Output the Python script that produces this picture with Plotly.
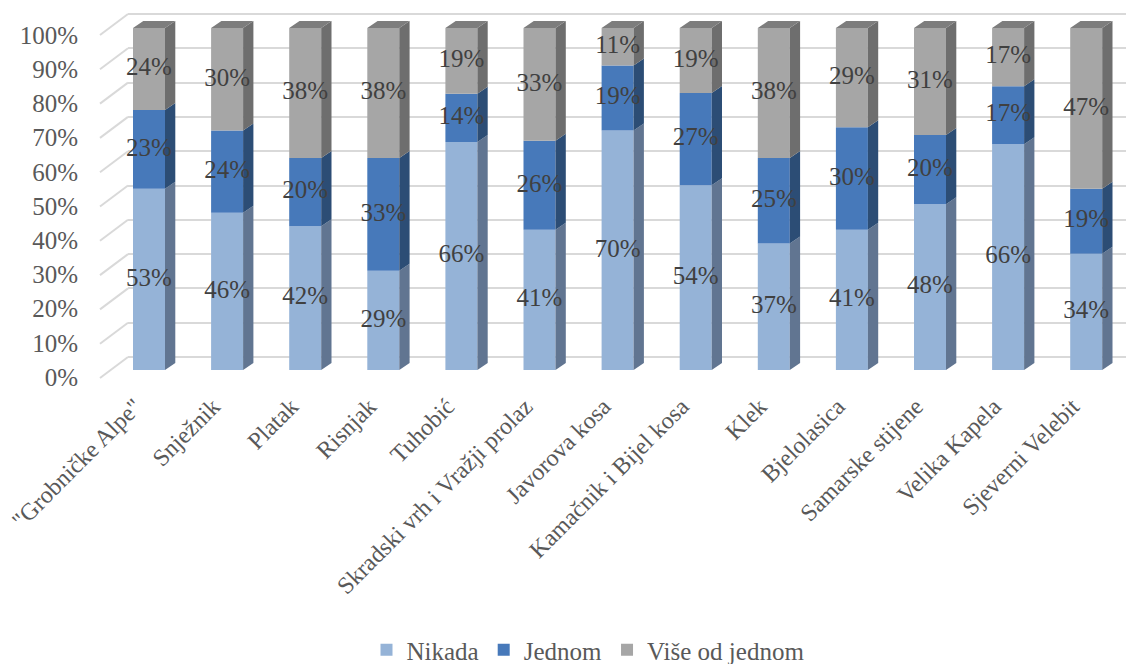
import numpy as np
import plotly.graph_objects as go

categories = ['"Grobničke Alpe"', "Snježnik", "Platak", "Risnjak", "Tuhobić",
              "Skradski vrh i Vražji prolaz", "Javorova kosa", "Kamačnik i Bijel kosa",
              "Klek", "Bjelolasica", "Samarske stijene", "Velika Kapela", "Sjeverni Velebit"]
nikada = [53, 46, 42, 29, 66, 41, 70, 54, 37, 41, 48, 66, 34]
jednom = [23, 24, 20, 33, 14, 26, 19, 27, 25, 30, 20, 17, 19]
vise = [24, 30, 38, 38, 19, 33, 11, 19, 38, 29, 31, 17, 47]
series_names = ["Nikada", "Jednom", "Više od jednom"]
tick_vals = [i / 10 for i in range(11)]
tick_text = [f"{i * 10}%" for i in range(11)]

FONT = "Liberation Serif"
FS = 25
FS_CAT = 24
front_colors = ["#95B3D7", "#4779BA", "#A6A6A6"]
side_colors = ["#617591", "#2C4D75", "#6E6E6E"]
top_color = "#7D7D7D"

# page body has an 8px margin; work in window pixels and subtract it
OFF = 8
WIN_W, WIN_H = 1134, 664
W, H = WIN_W - OFF, WIN_H - OFF
L, R, T, B = 128, 1130, 10, 380  # plot area in window px
PH = B - T

def axis_range(v_a, p_a, v_b, p_b):
    s = (p_a - p_b) / (v_b - v_a)
    return [v_a - (B - p_a) / s, v_a + (p_a - T) / s]

# bars: category i center at window px c0 + i*step
c0, step = 149.0, 78.1
xr = [(L - c0) / step, (R - c0) / step]
# category labels axis: slightly shifted so label ends sit just left of bar centres
lc0, lstep = 135.0, 78.1
xr_lab = [(L - lc0) / lstep, (R - lc0) / lstep]
bar_w = 32 / step
dx = 10.3 / step
dy = 7.0 / 342

yr_bar = axis_range(0, 370, 1, 28)
yr_grid = axis_range(0, 357, 1, 14)
yr_lab = axis_range(0, 377, 1, 35)

raw = np.array([nikada, jednom, vise], dtype=float)
frac = raw / raw.sum(axis=0)
cum = np.vstack([np.zeros(len(categories)), np.cumsum(frac, axis=0)[:-1]])
xs = np.arange(len(categories))

fig = go.Figure()
for k in range(3):
    fig.add_trace(go.Bar(x=xs, y=frac[k], base=cum[k], width=bar_w, name=series_names[k],
                         marker=dict(color=front_colors[k], line=dict(width=0)),
                         hoverinfo="skip", yaxis="y"))
# side faces
for k in range(3):
    px_, py_ = [], []
    for i in xs:
        xr_ = i + bar_w / 2
        b0, b1 = cum[k][i], cum[k][i] + frac[k][i]
        px_ += [xr_, xr_ + dx, xr_ + dx, xr_, xr_, None]
        py_ += [b0, b0 + dy, b1 + dy, b1, b0, None]
    fig.add_trace(go.Scatter(x=px_, y=py_, mode="lines", fill="toself", fillcolor=side_colors[k],
                             line=dict(width=0, color=side_colors[k]), showlegend=False,
                             hoverinfo="skip", yaxis="y"))
# top face
px_, py_ = [], []
for i in xs:
    xl, xr2 = i - bar_w / 2, i + bar_w / 2
    tp = cum[2][i] + frac[2][i]
    px_ += [xl, xr2, xr2 + dx, xl + dx, xl, None]
    py_ += [tp, tp, tp + dy, tp + dy, tp, None]
fig.add_trace(go.Scatter(x=px_, y=py_, mode="lines", fill="toself", fillcolor=top_color,
                         line=dict(width=0, color=top_color), showlegend=False,
                         hoverinfo="skip", yaxis="y"))
# data labels
for k in range(3):
    fig.add_trace(go.Scatter(x=xs, y=cum[k] + frac[k] / 2, mode="text",
                             text=[f"{int(v)}%" for v in raw[k]],
                             textfont=dict(family=FONT, size=FS, color="#404040"),
                             showlegend=False, hoverinfo="skip", yaxis="y", cliponaxis=False))

# stubs of the side wall gridlines
for v in tick_vals:
    fig.add_shape(type="line", xref="paper", xsizemode="pixel", xanchor=0, x0=0, x1=-28,
                  yref="y2", ysizemode="pixel", yanchor=v, y0=0, y1=-21,
                  line=dict(color="#D9D9D9", width=2), layer="below")

fig.update_layout(
    width=W, height=H,
    margin=dict(l=L - OFF, r=W - (R - OFF), t=T - OFF, b=H - (B - OFF), pad=0,
                autoexpand=False),
    paper_bgcolor="white", plot_bgcolor="white",
    barmode="overlay",
    font=dict(family=FONT, size=FS, color="#595959"),
    xaxis=dict(range=xr, showgrid=False, zeroline=False, showline=False, ticks="",
               showticklabels=False, automargin=False),
    xaxis2=dict(range=xr_lab, overlaying="x", anchor="y", side="bottom",
                tickmode="array", tickvals=list(xs), ticktext=categories,
                tickangle=-45, showgrid=False, zeroline=False, showline=False,
                ticks="outside", ticklen=2, tickcolor="rgba(0,0,0,0)", automargin=False,
                ticklabeloverflow="allow",
                tickfont=dict(family=FONT, size=FS_CAT, color="#595959")),
    yaxis=dict(range=yr_bar, showgrid=False, zeroline=False, showticklabels=False,
               automargin=False),
    yaxis2=dict(range=yr_grid, overlaying="y", tickmode="array", tickvals=tick_vals,
                showgrid=True, gridcolor="#D9D9D9", gridwidth=2, zeroline=False,
                showticklabels=False, automargin=False),
    yaxis3=dict(range=yr_lab, overlaying="y", tickmode="array", tickvals=tick_vals,
                ticktext=tick_text, showgrid=False, zeroline=False, ticks="outside",
                ticklen=44, tickcolor="rgba(0,0,0,0)", automargin=False,
                ticklabeloverflow="allow",
                tickfont=dict(family=FONT, size=FS, color="#595959")),
    legend=dict(orientation="h", x=(588 - L) / (R - L), xanchor="center",
                y=(B - 650) / PH, yanchor="middle",
                font=dict(family=FONT, size=FS, color="#595959"),
                itemwidth=30, tracegroupgap=0),
    showlegend=True,
)
fig.add_trace(go.Scatter(x=[None], y=[None], yaxis="y3", showlegend=False, hoverinfo="skip"))
fig.add_trace(go.Scatter(x=[None], y=[None], yaxis="y2", showlegend=False, hoverinfo="skip"))
fig.add_trace(go.Scatter(x=[None], y=[None], xaxis="x2", yaxis="y", showlegend=False,
                         hoverinfo="skip"))

fig.write_html("out.html")
